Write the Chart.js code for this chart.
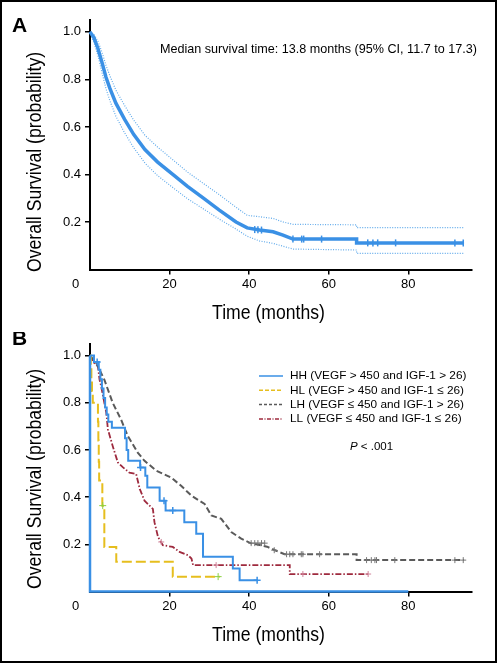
<!DOCTYPE html>
<html>
<head>
<meta charset="utf-8">
<script src="https://cdn.jsdelivr.net/npm/chart.js@4.4.0/dist/chart.umd.min.js"></script>
<style>
body { margin: 0; background: #fff; }
#wrap { position: relative; width: 498px; height: 664px; }
canvas { position: absolute; left: 0; }
#frame { position: absolute; left: 0; top: 0; width: 497px; height: 663px; border: 2px solid #000; box-sizing: border-box; pointer-events: none; }
</style>
</head>
<body>
<div id="wrap">
  <canvas id="chartA" width="498" height="332" style="top:0"></canvas>
  <canvas id="chartB" width="498" height="332" style="top:332px"></canvas>
  <div id="frame"></div>
</div>
<script>
// axis ticks
var xTicks = [20, 40, 60, 80];
var yTicks = [0.2, 0.4, 0.6, 0.8, 1.0];

// panel A - all patients (months, survival)
var aTime  = [0, 1, 2, 3, 4, 5, 6.5, 8.7, 11, 13.8, 17, 20.8, 24.5, 28.5, 32.5, 36.7, 39.5, 42.6, 46, 48.5, 51, 67, 67, 94];
var aSurv  = [1, .975, .93, .872, .81, .762, .70, .632, .568, .505, .452, .40, .35, .30, .25, .20, .175, .166, .159, .145, .128, .128, .112, .112];
var aUpper = [1, .99, .96, .915, .86, .815, .755, .69, .628, .565, .515, .462, .41, .362, .315, .262, .228, .222, .215, .20, .19, .188, .176, .176];
var aLower = [1, .955, .90, .83, .762, .71, .645, .575, .512, .448, .395, .345, .298, .255, .212, .17, .14, .12, .11, .098, .086, .082, .068, .068];
var aCensT = [41.4, 42.2, 43.1, 51, 53.2, 53.7, 58.2, 69.8, 71.1, 72.3, 76.8, 91.7, 93.8];
var aCensS = [.168, .167, .166, .128, .128, .128, .128, .112, .112, .112, .112, .112, .112];

// panel B - groups
var hhT = [0, 1.0, 2.2, 2.6, 3.0, 3.4, 3.8, 4.2, 4.6, 5.5, 8.8, 9.2, 9.6, 12.6, 13.9, 14.4, 17.5, 19.0, 23.7, 26.7, 28.4, 35.9, 37.6, 42.2];
var hhS = [1, .973, .94, .90, .86, .82, .78, .75, .72, .694, .65, .60, .554, .526, .491, .441, .385, .343, .294, .245, .147, .098, .048, .048];
var hhEdgeT = [0, 0, 80];
var hhEdgeS = [1, 0, 0];
var hlT = [0, 0.2, 0.35, 0.5, 0.7, 2.0, 2.1, 2.2, 2.3, 3.1, 3.6, 6.6, 20.8, 32.6];
var hlS = [1, .95, .90, .85, .80, .72, .64, .55, .47, .364, .189, .126, .063, .063];
var lhT = [0, 1.6, 3.6, 5.7, 7.8, 9.5, 12.0, 13.7, 16.7, 20.4, 22.9, 25.5, 28.8, 30.5, 33, 35.5, 38, 40.3, 44.5, 46.5, 48.9, 67, 67, 94];
var lhS = [1, .968, .898, .80, .729, .659, .589, .554, .512, .483, .448, .406, .371, .322, .308, .252, .224, .205, .19, .175, .158, .158, .133, .133];
var llT = [0, 1.0, 2.0, 2.4, 2.8, 4.1, 4.5, 5.7, 7.0, 8.3, 9.9, 11.6, 12.5, 13.7, 15.8, 16.2, 17.1, 18.3, 20.8, 22.5, 24.6, 25.5, 25.9, 50.2, 50.2, 70.3];
var llS = [1, .97, .954, .898, .87, .757, .687, .617, .547, .526, .504, .498, .435, .385, .35, .294, .231, .196, .189, .168, .154, .14, .112, .112, .074, .074];

// censored marks
var hhCensT = [1.8, 12.7, 18.6, 20.8, 42.0];
var hhCensS = [.973, .526, .385, .343, .048];
var hlCensT = [3.2, 32.2];
var hlCensS = [.364, .063];
var lhCensT = [40.5, 41.4, 42.2, 43.1, 43.9, 46.3, 49.4, 50.2, 51, 53.1, 53.5, 57.7, 69.5, 70.7, 71.6, 72, 76.6, 91.7, 93.8];
var lhCensS = [.205, .205, .205, .205, .205, .175, .158, .158, .158, .158, .158, .158, .133, .133, .133, .133, .133, .133, .133];
var llCensT = [17.9, 31.7, 53.5, 69.9];
var llCensS = [.21, .112, .074, .074];

var groupLabels = [
  "HH (VEGF > 450 and IGF-1 > 26)",
  "HL (VEGF > 450 and IGF-1 \u2264 26)",
  "LH (VEGF \u2264 450 and IGF-1 > 26)",
  "LL (VEGF \u2264 450 and IGF-1 \u2264 26)"
];
var groupColors = ["#3a90e5", "#e6be1e", "#5a5a5a", "#9e2a3e"];
var groupDash = [[], [10, 4], [6, 3], [6, 2, 1.5, 2]];
var legendDash = [[], [4, 2], [3, 2], [4, 1.5, 1, 1.5]];
var censColors = ['#3a90e5', '#8cd040', '#777777', '#d0849a'];

Chart.defaults.font.family = "'Liberation Sans', Arial, sans-serif";
Chart.defaults.color = "#000";

function toXY(t, s) {
  var out = [];
  for (var i = 0; i < t.length; i++) out.push({ x: t[i], y: s[i] });
  return out;
}

function makeScales(xHeight) {
  return {
    x: {
      type: 'linear', min: 0, max: 96,
      afterFit: function (s) { s.height = xHeight; },
      afterBuildTicks: function (s) { s.ticks = xTicks.map(function (v) { return { value: v }; }); },
      ticks: { font: { size: 13 }, padding: 2, maxRotation: 0, autoSkip: false },
      grid: { drawOnChartArea: false, drawTicks: true, tickLength: 5, color: '#000', lineWidth: 1.5 },
      border: { color: '#000', width: 2 }
    },
    y: {
      type: 'linear', min: 0, max: 1.05,
      afterFit: function (s) { s.width = 90; },
      afterBuildTicks: function (s) { s.ticks = yTicks.map(function (v) { return { value: v }; }); },
      ticks: { font: { size: 13 }, padding: 4, callback: function (v) { return v.toFixed(1); } },
      grid: { drawOnChartArea: false, drawTicks: true, tickLength: 5, color: '#000', lineWidth: 1.5 },
      border: { color: '#000', width: 2 }
    }
  };
}

// condensed look for the axis titles
var titleFont = "20px 'Liberation Sans', Arial, sans-serif";
var squeeze = 0.88;

// titles, panel letter, "0" at the origin and the in-plot notes
function textPlugin(letter, titleShift, extra) {
  return {
    id: 'texts' + letter,
    afterDraw: function (chart) {
      var ctx = chart.ctx, area = chart.chartArea;
      ctx.save();
      ctx.fillStyle = '#000';
      ctx.font = "bold 21px 'Liberation Sans', Arial, sans-serif";
      ctx.textAlign = 'left';
      ctx.textBaseline = 'alphabetic';
      ctx.fillText(letter, 12, letter === 'A' ? 32 : 13);

      ctx.font = "13px 'Liberation Sans', Arial, sans-serif";
      ctx.textAlign = 'center';
      ctx.textBaseline = 'middle';
      ctx.fillText('0', 75.5, area.bottom + 15);

      ctx.font = titleFont;
      ctx.save();
      ctx.translate(268.5, area.bottom + 44);
      ctx.scale(squeeze, 1);
      ctx.fillText('Time (months)', 0, 0);
      ctx.restore();

      ctx.translate(35, area.bottom + titleShift);
      ctx.rotate(-Math.PI / 2);
      ctx.scale(squeeze, 1);
      ctx.textAlign = 'left';
      ctx.fillText('Overall Survival (probability)', 0, 0);
      ctx.restore();

      extra(ctx, area);
    }
  };
}

// A: all patients..................
new Chart(document.getElementById('chartA'), {
  type: 'line',
  data: {
    datasets: [
      { data: toXY(aCensT, aCensS), showLine: false, pointStyle: 'line', rotation: 90, pointRadius: 3.5, borderColor: '#3a90e5', borderWidth: 1.5 },
      { data: toXY(aTime, aSurv), borderColor: '#3a90e5', borderWidth: 3.5, pointRadius: 0 },
      { data: toXY(aTime, aUpper), borderColor: '#62abeb', borderWidth: 1.2, borderDash: [1, 1.5], pointRadius: 0 },
      { data: toXY(aTime, aLower), borderColor: '#62abeb', borderWidth: 1.2, borderDash: [1, 1.5], pointRadius: 0 }
    ]
  },
  options: {
    responsive: false,
    animation: false,
    clip: false,
    layout: { padding: { top: 20, right: 26, left: 0, bottom: 0 } },
    plugins: { legend: { display: false }, tooltip: { enabled: false } },
    scales: makeScales(62.5)
  },
  plugins: [textPlugin('A', 2.5, function (ctx) {
    ctx.save();
    ctx.font = "12.6px 'Liberation Sans', Arial, sans-serif";
    ctx.textBaseline = 'middle';
    ctx.fillStyle = '#000';
    ctx.fillText('Median survival time: 13.8 months (95% CI, 11.7 to 17.3)', 160, 50);
    ctx.restore();
  })]
});

// B: VEGF / IGF-1 groups..................
new Chart(document.getElementById('chartB'), {
  type: 'line',
  data: {
    datasets: [
      { data: toXY(hhCensT, hhCensS), showLine: false, pointStyle: 'cross', pointRadius: 3.5, borderColor: censColors[0], borderWidth: 1.5 },
      { data: toXY(hlCensT, hlCensS), showLine: false, pointStyle: 'cross', pointRadius: 3.5, borderColor: censColors[1], borderWidth: 1 },
      { data: toXY(lhCensT, lhCensS), showLine: false, pointStyle: 'cross', pointRadius: 3, borderColor: censColors[2], borderWidth: 1 },
      { data: toXY(llCensT, llCensS), showLine: false, pointStyle: 'cross', pointRadius: 3, borderColor: censColors[3], borderWidth: 1 },
      { data: toXY(hhT, hhS), stepped: true, borderColor: groupColors[0], borderWidth: 2, pointRadius: 0 },
      { data: toXY(hhEdgeT, hhEdgeS), borderColor: groupColors[0], borderWidth: 2.5, pointRadius: 0 },
      { data: toXY(hlT, hlS), stepped: true, borderColor: groupColors[1], borderWidth: 2, borderDash: groupDash[1], pointRadius: 0 },
      { data: toXY(lhT, lhS), borderColor: groupColors[2], borderWidth: 2, borderDash: groupDash[2], pointRadius: 0 },
      { data: toXY(llT, llS), borderColor: groupColors[3], borderWidth: 1.8, borderDash: groupDash[3], pointRadius: 0 }
    ]
  },
  options: {
    responsive: false,
    animation: false,
    clip: false,
    layout: { padding: { top: 10, right: 26, left: 0, bottom: 0 } },
    plugins: { legend: { display: false }, tooltip: { enabled: false } },
    scales: makeScales(72.5)
  },
  plugins: [textPlugin('B', -2.5, function (ctx) {
    ctx.save();
    ctx.font = "11.8px 'Liberation Sans', Arial, sans-serif";
    ctx.textBaseline = 'middle';
    for (var i = 0; i < groupLabels.length; i++) {
      var y = 44 + i * 14.3;
      ctx.strokeStyle = groupColors[i];
      ctx.lineWidth = 1.5;
      ctx.setLineDash(legendDash[i]);
      ctx.beginPath();
      ctx.moveTo(259, y);
      ctx.lineTo(283, y);
      ctx.stroke();
      ctx.fillStyle = '#000';
      ctx.fillText(groupLabels[i], 290, y);
    }
    ctx.setLineDash([]);
    ctx.font = "italic 11.5px 'Liberation Sans', Arial, sans-serif";
    ctx.fillText('P', 350, 115);
    var w = ctx.measureText('P').width;
    ctx.font = "11.5px 'Liberation Sans', Arial, sans-serif";
    ctx.fillText(' < .001', 350 + w, 115);
    ctx.restore();
  })]
});
</script>
</body>
</html>
